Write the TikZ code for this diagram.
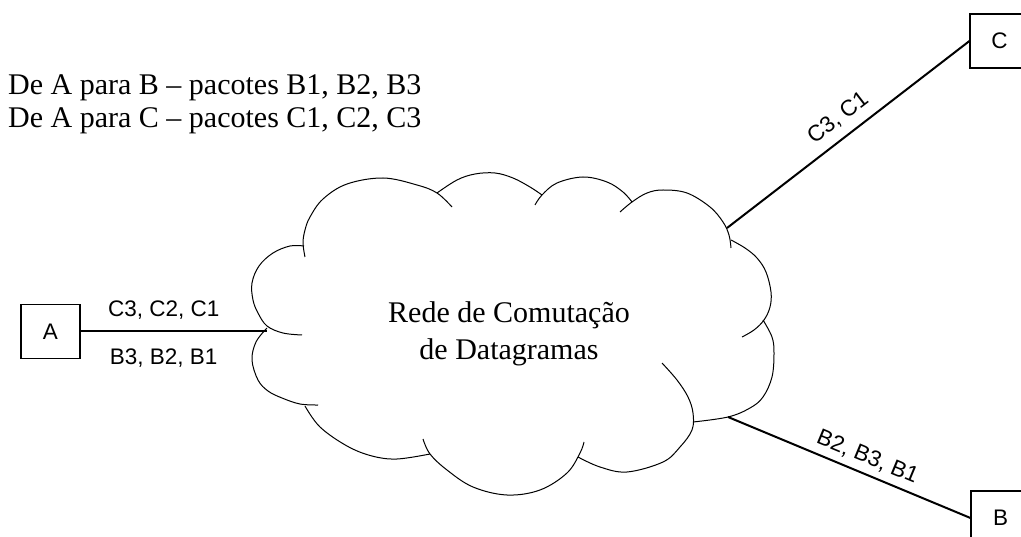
\documentclass[tikz,border=0pt]{standalone}
\usepackage{fontspec}
\setmainfont{Liberation Serif}
\newfontfamily\labfont{Liberation Sans}
\usetikzlibrary{calc}
\begin{document}
\begin{tikzpicture}[x=1pt,y=-1pt,
  box/.style={draw, line width=1.1pt, minimum width=59pt, minimum height=54pt, inner sep=0pt,
    font=\labfont\fontsize{22.5}{27}\selectfont},
  link/.style={line width=2pt},
  cloudline/.style={line width=1pt, line join=round},
  lab/.style={font=\labfont\fontsize{22.5}{27}\selectfont, inner sep=0pt},
  big/.style={font=\fontsize{30}{36}\selectfont, inner sep=0pt}]
\useasboundingbox (0,0) rectangle (1021,537);
\fill[white] (0,0) rectangle (1021,537);
\clip (0,0) rectangle (1021,537);

% texts at top left
\node[big, anchor=base west] (t1) at (8,95) {De A para B – pacotes B1, B2, B3};
\node[big, anchor=base west] (t2) at (8,128) {De A para C – pacotes C1, C2, C3};

% end systems
\node[box] (A) at (50.5,331.5) {A};
\node[box] (C) at (999.5,41) {C};
\node[box] (B) at (1000.5,518) {B};

% cloud lobes
\draw[cloudline] plot[smooth, tension=0.6] coordinates {(304,246) (290,246) (273,253) (259,266) (252,283) (253,300) (258,313) (267,326) (283,333) (302,335)};
\draw[cloudline] plot[smooth, tension=0.6] coordinates {(267,328) (256,342) (252,360) (258,380) (268,391) (282,398) (300,404) (318,405)};
\draw[cloudline] plot[smooth, tension=0.6] coordinates {(305,406) (320,427) (347,446) (372,456) (397,459) (430,454)};
\draw[cloudline] plot[smooth, tension=0.6] coordinates {(423,439) (430,454) (447,470) (473,487) (507,495) (540,490) (567,473) (580,453) (584,442)};
\draw[cloudline] plot[smooth, tension=0.6] coordinates {(578,457) (600,467) (627,472) (663,462) (680,447) (692,430) (693,413) (688,397) (677,380) (662,363)};
\draw[cloudline] plot[smooth, tension=0.6] coordinates {(763,320) (772,337) (774,353) (772,377) (763,397) (750,408) (728,417) (693,422)};
\draw[cloudline] plot[smooth, tension=0.6] coordinates {(731,240) (745,248) (757,258) (766,272) (771,292) (770,307) (764,320) (754,330) (742,337)};
\draw[cloudline] plot[smooth, tension=0.6] coordinates {(620,212) (632,202) (647,193) (663,190) (687,193) (710,207) (723,222) (729,235) (731,248)};
\draw[cloudline] plot[smooth, tension=0.6] coordinates {(535,205) (542,195) (557,183) (583,177) (607,182) (623,192) (632,202)};
\draw[cloudline] plot[smooth, tension=0.6] coordinates {(437,193) (457,180) (475,174) (495,173) (513,178) (530,187) (542,195)};
\draw[cloudline] plot[smooth, tension=0.6] coordinates {(305,257) (303,243) (305,230) (310,217) (323,199) (347,184) (383,178) (417,185) (437,193) (452,207)};

\node[big, anchor=base] (net1) at (509,323) {Rede de Comutação};
\node[big, anchor=base] (net2) at (509,360) {de Datagramas};

% attachment points on the cloud
\coordinate (cA) at (267,331.5);
\coordinate (cC) at (727,228);
\coordinate (cB) at (728,417);

% links
\draw[link] (A.east) -- (cA)
  node[lab, pos=0.446, anchor=base, yshift=14.5pt] (lAC) {C3, C2, C1}
  node[lab, pos=0.446, anchor=base, yshift=-33.5pt] (lAB) {B3, B2, B1};
\draw[link] (cC) -- (C.west) coordinate[pos=0.507] (mC);
\draw[link] (cB) -- (B.west) coordinate[pos=0.549] (mB);
\node[lab, rotate=37.6, anchor=base] (lC) at ($(mC)!13pt!90:(C.west)$) {C3, C1};
\node[lab, rotate=-22.57, anchor=base] (lB) at ($(mB)!10.1pt!90:(B.west)$) {B2, B3, B1};
\end{tikzpicture}
\end{document}
